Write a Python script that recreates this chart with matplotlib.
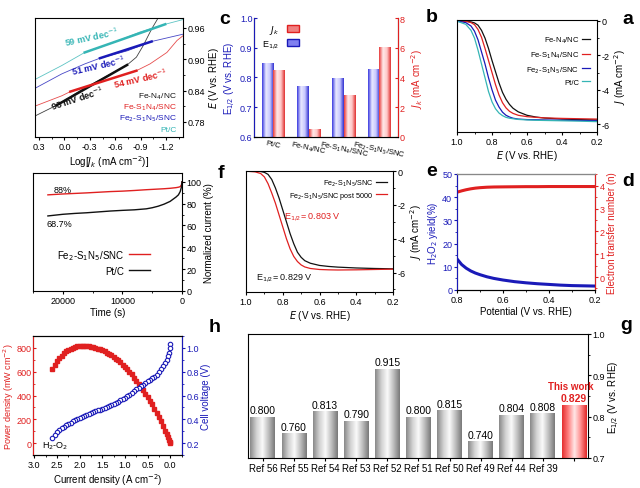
import numpy as np
import matplotlib.pyplot as plt
from matplotlib.ticker import AutoMinorLocator
from matplotlib.colors import LinearSegmentedColormap
from matplotlib.patches import Patch

plt.rcParams['font.family'] = ['Liberation Sans', 'DejaVu Sans']
plt.rcParams['font.size'] = 7
plt.rcParams['xtick.labelsize'] = 6.5
plt.rcParams['ytick.labelsize'] = 6.5
plt.rcParams['axes.unicode_minus'] = False
plt.rcParams['axes.linewidth'] = 0.8
plt.rcParams['xtick.major.size'] = 2.2
plt.rcParams['ytick.major.size'] = 2.2
plt.rcParams['xtick.minor.size'] = 1.3
plt.rcParams['ytick.minor.size'] = 1.3
plt.rcParams['xtick.major.pad'] = 1.2
plt.rcParams['ytick.major.pad'] = 1.2
plt.rcParams['axes.labelpad'] = 1.5

BLACK, RED, BLUE, CYAN = '#111111', '#e02020', '#1a1ab8', '#35b5b5'

# ---- a: ORR polarization curves
names = ['Fe-N$_4$/NC', 'Fe-S$_1$N$_4$/SNC', 'Fe$_2$-S$_1$N$_5$/SNC', 'Pt/C']
lsv_E = [1.00, 0.95, 0.92, 0.90, 0.88, 0.86, 0.84, 0.82, 0.80, 0.78, 0.76,
         0.74, 0.72, 0.70, 0.68, 0.65, 0.60, 0.55, 0.50, 0.40, 0.30, 0.20]
lsv_feN4 = [0.0, -0.02, -0.06, -0.12, -0.25, -0.55, -1.0, -1.6, -2.3, -2.95, -3.6,
            -4.15, -4.55, -4.85, -5.07, -5.28, -5.48, -5.58, -5.64, -5.70, -5.73, -5.75]
lsv_feS = [0.0, -0.03, -0.10, -0.22, -0.5, -0.95, -1.6, -2.3, -3.0, -3.7, -4.3,
           -4.75, -5.05, -5.25, -5.37, -5.48, -5.56, -5.60, -5.63, -5.66, -5.68, -5.70]
lsv_fe2 = [-0.01, -0.10, -0.3, -0.6, -1.1, -1.8, -2.5, -3.3, -4.0, -4.6, -5.0,
           -5.3, -5.48, -5.58, -5.65, -5.70, -5.73, -5.74, -5.75, -5.77, -5.78, -5.80]
lsv_ptc = [-0.02, -0.2, -0.55, -1.0, -1.7, -2.5, -3.3, -4.1, -4.7, -5.1, -5.35,
           -5.5, -5.6, -5.65, -5.68, -5.72, -5.75, -5.77, -5.78, -5.80, -5.82, -5.85]

# ---- b: E1/2 and Jk (original order)
cat_b = ['Fe$_2$-S$_1$N$_5$/SNC', 'Fe-S$_1$N$_4$/SNC', 'Fe-N$_4$/NC', 'Pt/C']
e_half = [0.829, 0.80, 0.771, 0.849]
j_k = [6.05, 2.82, 0.54, 4.5]

# ---- c: Tafel plots
taf_x_ptc = [0.35, 0.03, -0.24, -0.58, -0.89, -1.19, -1.40]
taf_y_ptc = [0.861, 0.888, 0.913, 0.932, 0.952, 0.967, 0.976]
taf_x_fe2 = [0.35, 0.03, -0.24, -0.42, -0.74, -1.03, -1.40]
taf_y_fe2 = [0.844, 0.872, 0.891, 0.902, 0.916, 0.934, 0.948]
taf_x_feS = [0.35, 0.03, -0.07, -0.42, -0.85, -1.01, -1.21, -1.33, -1.40]
taf_y_feS = [0.810, 0.830, 0.838, 0.856, 0.878, 0.891, 0.913, 0.936, 0.945]
taf_x_feN = [0.35, 0.09, -0.22, -0.74, -0.85, -0.93, -1.03, -1.11, -1.15]
taf_y_feN = [0.791, 0.812, 0.843, 0.889, 0.904, 0.926, 0.958, 0.980, 0.99]
fit_x = {'ptc': [-0.24, -1.19], 'fe2': [-0.42, -1.03], 'feS': [-0.07, -0.85], 'feN': [0.09, -0.74]}
fit_y = {'ptc': [0.913, 0.967], 'fe2': [0.902, 0.934], 'feS': [0.838, 0.878], 'feN': [0.812, 0.889]}

# ---- d: H2O2 yield / electron number
rrde_E = [0.80, 0.78, 0.76, 0.74, 0.72, 0.70, 0.67, 0.64, 0.60, 0.55, 0.50,
          0.45, 0.40, 0.35, 0.30, 0.25, 0.20]
h2o2 = [13.4, 11.0, 9.4, 8.2, 7.3, 6.6, 5.7, 5.0, 4.3, 3.6, 3.1, 2.7, 2.4, 2.1, 1.9, 1.8, 1.7]
n_e = [3.72, 3.78, 3.83, 3.87, 3.90, 3.92, 3.94, 3.95, 3.955, 3.96, 3.965, 3.965,
       3.97, 3.97, 3.97, 3.97, 3.97]

# ---- e: stability LSV
lsv_fresh = [0.0, -0.01, -0.03, -0.08, -0.2, -0.5, -1.0, -1.6, -2.3, -3.0, -3.7,
             -4.3, -4.8, -5.1, -5.3, -5.45, -5.58, -5.64, -5.68, -5.73, -5.76, -5.78]
lsv_post = [-0.01, -0.05, -0.15, -0.35, -0.75, -1.3, -1.9, -2.6, -3.3, -4.0, -4.6,
            -5.05, -5.35, -5.55, -5.67, -5.76, -5.82, -5.84, -5.85, -5.84, -5.82, -5.80]

# ---- f: chronoamperometry
ca_t = [0, 100, 300, 600, 1000, 2000, 3000, 4000, 5000, 6000, 8000, 10000,
        12000, 14000, 16000, 18000, 20000, 22500]
ca_fe2 = [100, 97, 95.5, 95, 94.6, 94, 93.6, 93.3, 93, 92.7, 92, 91.4, 91, 90.4,
          89.8, 89.3, 88.8, 88]
ca_ptc = [100, 95, 91, 88, 86, 82, 79.5, 77.6, 76.2, 75.2, 74.3, 73.8, 73.2, 72.4,
          71.6, 71.0, 70.2, 68.7]

# ---- g: comparison (original order)
refs = ['This work', 'Ref 39', 'Ref 44', 'Ref 49', 'Ref 50', 'Ref 51', 'Ref 52',
        'Ref 53', 'Ref 54', 'Ref 55', 'Ref 56']
ref_vals = [0.829, 0.808, 0.804, 0.740, 0.815, 0.800, 0.915, 0.790, 0.813, 0.760, 0.800]

# ---- h: H2-O2 fuel cell
fc_j = [0.00, 0.01, 0.03, 0.05, 0.08, 0.11, 0.15, 0.20, 0.25, 0.30, 0.35, 0.40,
        0.45, 0.50, 0.55, 0.60, 0.65, 0.70, 0.75, 0.80, 0.85, 0.90, 0.95, 1.00,
        1.05, 1.10, 1.15, 1.20, 1.25, 1.30, 1.35, 1.40, 1.45, 1.50, 1.55, 1.60,
        1.65, 1.70, 1.75, 1.80, 1.85, 1.90, 1.95, 2.00, 2.05, 2.10, 2.15, 2.20,
        2.25, 2.30, 2.35, 2.40, 2.45, 2.50, 2.55, 2.60]
fc_v = [1.03, 1.00, 0.96, 0.93, 0.90, 0.875, 0.85, 0.82, 0.795, 0.775, 0.758, 0.743,
        0.730, 0.718, 0.705, 0.692, 0.679, 0.665, 0.651, 0.637, 0.622, 0.607, 0.593,
        0.580, 0.569, 0.558, 0.548, 0.539, 0.530, 0.522, 0.514, 0.506, 0.498, 0.490,
        0.482, 0.474, 0.466, 0.458, 0.450, 0.442, 0.434, 0.426, 0.418, 0.410, 0.401,
        0.392, 0.383, 0.373, 0.362, 0.351, 0.339, 0.325, 0.309, 0.291, 0.270, 0.245]
fc_p = [0, 10, 30, 50, 80, 105, 145, 188, 222, 256, 290, 325, 356, 385, 414, 443,
        470, 497, 523, 550, 578, 600, 622, 641, 660, 678, 696, 710, 724, 737, 749,
        760, 770, 779, 787, 794, 800, 805, 810, 813, 815, 817, 817, 816, 813, 808,
        801, 793, 783, 770, 755, 735, 712, 686, 657, 622]

fig = plt.figure(figsize=(6.4, 4.89), dpi=100)


def box(x0, y0, x1, y1):
    return fig.add_axes([x0 / 640, 1 - y1 / 489, (x1 - x0) / 640, (y1 - y0) / 489])


def right_y(ax):
    ax.yaxis.tick_right()
    ax.yaxis.set_label_position('right')


def minors(ax, x=True, y=True):
    if x:
        ax.xaxis.set_minor_locator(AutoMinorLocator(2))
    if y:
        ax.yaxis.set_minor_locator(AutoMinorLocator(2))


def gradient_bars(ax, bars, colors):
    cmap = LinearSegmentedColormap.from_list('g', colors)
    shade = np.linspace(0, 1, 64).reshape(1, -1)
    for b in bars:
        x, y = b.get_x(), b.get_y()
        w, h = b.get_width(), b.get_height()
        b.set_facecolor('none')
        b.set_edgecolor('none')
        im = ax.imshow(shade, extent=(x, x + w, y, y + h), aspect='auto',
                       cmap=cmap, zorder=2, interpolation='bilinear')
        im.set_clip_path(b)


# panel a
ax = box(457, 21, 597, 133)
for lab, j, c in zip(names, [lsv_feN4, lsv_feS, lsv_fe2, lsv_ptc], [BLACK, RED, BLUE, CYAN]):
    ax.plot(lsv_E, j, color=c, lw=0.9, label=lab)
right_y(ax)
ax.set_xlim(1.0, 0.2)
ax.set_ylim(-6.45, 0.05)
ax.set_xticks([1.0, 0.8, 0.6, 0.4, 0.2])
ax.set_yticks([0, -2, -4, -6])
minors(ax)
ax.set_xlabel('$E$ (V vs. RHE)')
ax.set_ylabel('$J$ (mA cm$^{-2}$)')
ax.legend(loc='upper right', bbox_to_anchor=(1.0, 0.93), markerfirst=False, frameon=False,
          fontsize=5.5, handlelength=1.0, labelspacing=0.55, handletextpad=0.4)

# panel b
ax = box(254, 19, 398, 138)
ax2 = ax.twinx()
pos = np.arange(len(cat_b))
bb = ax.bar(pos + 0.165, np.subtract(e_half, 0.6), width=0.33, bottom=0.6)
br = ax2.bar(pos - 0.165, j_k, width=0.33)
gradient_bars(ax, bb, ['#3030d0', '#c8c8ff', '#e8e8ff', '#3a3ae0'])
gradient_bars(ax2, br, ['#e03030', '#ffc8c8', '#ffe8e8', '#e83a3a'])
ax.set_xlim(3.55, -0.53)
ax.set_ylim(0.6, 1.0)
ax2.set_ylim(0, 8)
ax.set_yticks([0.6, 0.7, 0.8, 0.9, 1.0])
ax2.set_yticks([0, 2, 4, 6, 8])
ax.set_xticks(pos)
ax.set_xticklabels(cat_b, rotation=-12, fontsize=5.5, ha='center')
ax.tick_params(axis='x', length=0)
ax.tick_params(axis='y', colors=BLUE, direction='in')
ax2.tick_params(axis='y', colors=RED, direction='in')
ax2.spines['left'].set_color(BLUE)
ax2.spines['right'].set_color(RED)
for a in (ax, ax2):
    a.spines['top'].set_visible(False)
ax.set_ylabel('E$_{1/2}$ (V vs. RHE)', color=BLUE)
ax.yaxis.set_label_coords(-0.11, 0.5)
ax2.set_ylabel('$J_k$ (mA cm$^{-2}$)', color=RED)
ax2.yaxis.set_label_coords(1.08, 0.5)
ax.legend(handles=[Patch(facecolor='#f08080', edgecolor=RED, label='$J_k$'),
                   Patch(facecolor='#8080f0', edgecolor=BLUE, label='E$_{1/2}$')],
          loc='upper left', bbox_to_anchor=(0.0, 1.03), markerfirst=False, frameon=False,
          fontsize=6.5, handlelength=1.4, handleheight=0.8, labelspacing=0.3)

# panel c
ax = box(35, 19, 183, 138)
for xs, ys, c, k in [(taf_x_feN, taf_y_feN, BLACK, 'feN'), (taf_x_feS, taf_y_feS, RED, 'feS'),
                     (taf_x_fe2, taf_y_fe2, BLUE, 'fe2'), (taf_x_ptc, taf_y_ptc, CYAN, 'ptc')]:
    ax.plot(xs, ys, color=c, lw=0.6, alpha=0.8)
    ax.plot(fit_x[k], fit_y[k], color=c, lw=1.8)
right_y(ax)
ax.set_xlim(0.347, -1.40)
ax.set_ylim(0.751, 0.979)
ax.set_xticks([0.3, 0.0, -0.3, -0.6, -0.9, -1.2])
ax.set_xticklabels(['0.3', '0.0', '-0.3', '-0.6', '-0.9', '-1.2'])
ax.set_yticks([0.78, 0.84, 0.90, 0.96])
minors(ax)
ax.set_xlabel('Log[$J_k$ (mA cm$^{-2}$)]')
ax.set_ylabel('$E$ (V vs. RHE)')
ax.yaxis.set_label_coords(1.165, 0.5)
for s, c, xy, r in [('59 mV dec$^{-1}$', CYAN, (0.385, 0.85), 12),
                    ('51 mV dec$^{-1}$', BLUE, (0.43, 0.61), 13),
                    ('54 mV dec$^{-1}$', RED, (0.716, 0.50), 13),
                    ('93 mV dec$^{-1}$', BLACK, (0.29, 0.335), 18)]:
    ax.text(*xy, s, color=c, fontsize=6.5, fontweight='bold', rotation=r,
            ha='center', va='center', transform=ax.transAxes)
for s, c, yy in zip(names, [BLACK, RED, BLUE, CYAN], [0.345, 0.252, 0.16, 0.06]):
    ax.text(0.96, yy, s, color=c, fontsize=6, ha='right', va='center', transform=ax.transAxes)

# panel d
ax = box(457, 175, 595, 291)
ax2 = ax.twinx()
ax.plot(rrde_E, h2o2, color=BLUE, lw=2.2)
ax2.plot(rrde_E, n_e, color=RED, lw=2.2)
ax.set_xlim(0.8, 0.2)
ax.set_ylim(0, 50)
ax2.set_ylim(-0.57, 4.52)
ax.set_xticks([0.8, 0.6, 0.4, 0.2])
ax.set_yticks([0, 10, 20, 30, 40, 50])
ax2.set_yticks([0, 1, 2, 3, 4])
minors(ax)
ax2.yaxis.set_minor_locator(AutoMinorLocator(2))
ax.tick_params(axis='y', which='both', colors=BLUE)
ax2.tick_params(axis='y', which='both', colors=RED)
ax2.spines['left'].set_color(BLUE)
ax2.spines['right'].set_color(RED)
ax2.spines['top'].set_color('#888888')
ax.set_xlabel('Potential (V vs. RHE)')
ax.set_ylabel('H$_2$O$_2$ yield(%)', color=BLUE)
ax.yaxis.set_label_coords(-0.125, 0.5)
ax2.set_ylabel('Electron transfer number (n)', color=RED)

# panel e
ax = box(246, 172, 393, 293)
ax.plot(lsv_E, lsv_fresh, color=BLACK, lw=0.9, label='Fe$_2$-S$_1$N$_5$/SNC')
ax.plot(lsv_E, lsv_post, color=RED, lw=0.9, label='Fe$_2$-S$_1$N$_5$/SNC post 5000')
right_y(ax)
ax.set_xlim(1.0, 0.2)
ax.set_ylim(-7.15, 0.0)
ax.set_xticks([1.0, 0.8, 0.6, 0.4, 0.2])
ax.set_yticks([0, -2, -4, -6])
minors(ax)
ax.set_xlabel('$E$ (V vs. RHE)')
ax.set_ylabel('$J$ (mA cm$^{-2}$)')
ax.yaxis.set_label_coords(1.1, 0.5)
ax.legend(loc='upper right', bbox_to_anchor=(1.0, 1.0), markerfirst=False, frameon=False,
          fontsize=5.2, handlelength=1.4, labelspacing=0.3, handletextpad=0.4)
ax.text(0.45, 0.625, 'E$_{1/2}$= 0.803 V', color=RED, fontsize=6.5, ha='center',
        va='center', transform=ax.transAxes)
ax.text(0.265, 0.125, 'E$_{1/2}$= 0.829 V', color=BLACK, fontsize=6.5, ha='center',
        va='center', transform=ax.transAxes)

# panel f
ax = box(33, 174, 182, 292)
ax.plot(ca_t, ca_fe2, color=RED, lw=1.0, label='Fe$_2$-S$_1$N$_5$/SNC')
ax.plot(ca_t, ca_ptc, color=BLACK, lw=1.0, label='Pt/C')
right_y(ax)
ax.set_xlim(25000, 0)
ax.set_ylim(0, 108)
ax.set_xticks([20000, 10000, 0])
ax.set_yticks([0, 20, 40, 60, 80, 100])
minors(ax)
ax.set_xlabel('Time (s)')
ax.set_ylabel('Normalized current (%)')
ax.legend(loc='upper left', bbox_to_anchor=(0.1, 0.44), markerfirst=False, frameon=False,
          fontsize=7, handlelength=2.2, labelspacing=0.4, handletextpad=0.5)
ax.text(0.2, 0.86, '88%', fontsize=6.5, ha='center', va='center', transform=ax.transAxes)
ax.text(0.18, 0.57, '68.7%', fontsize=6.5, ha='center', va='center', transform=ax.transAxes)

# panel g
ax = box(248, 335, 588, 459)
pos = np.arange(len(refs))
bars = ax.bar(pos, np.subtract(ref_vals, 0.7), width=0.8, bottom=0.7)
gradient_bars(ax, bars[1:], ['#7a7a7a', '#bdbdbd', '#fbfbfb', '#d0d0d0', '#8a8a8a'])
gradient_bars(ax, bars[:1], ['#e02828', '#ff9090', '#ffe8e8', '#ff8080', '#e53030'])
right_y(ax)
ax.set_xlim(10.48, -0.45)
ax.set_ylim(0.7, 1.0)
ax.set_yticks([0.7, 0.8, 0.9, 1.0])
ax.yaxis.set_minor_locator(AutoMinorLocator(2))
ax.set_xticks(pos)
ax.set_xticklabels([''] + refs[1:], fontsize=7)
ax.set_ylabel('E$_{1/2}$ (V vs. RHE)')
for p, v in zip(pos[1:], ref_vals[1:]):
    ax.text(p, v + 0.004, f'{v:.3f}', ha='center', va='bottom', fontsize=7.5)
ax.text(pos[0], ref_vals[0] + 0.004, f'{ref_vals[0]:.3f}', ha='center', va='bottom',
        fontsize=7.5, color=RED, fontweight='bold')
ax.text(pos[0] + 0.1, ref_vals[0] + 0.032, refs[0], ha='center', va='bottom',
        fontsize=7, color=RED, fontweight='bold')

# panel h
ax = box(33, 337, 182, 456)
ax2 = ax.twinx()
ax.plot(fc_j, fc_p, 's', color=RED, ms=2.8, mec=RED)
ax2.plot(fc_j, fc_v, 'o', color=BLUE, ms=3.2, mfc='white', mew=0.8)
ax.set_xlim(3.03, -0.26)
ax.set_ylim(-100, 900)
ax2.set_ylim(0.1, 1.1)
ax.set_xticks([3.0, 2.5, 2.0, 1.5, 1.0, 0.5, 0.0])
ax.set_yticks([0, 200, 400, 600, 800])
ax2.set_yticks([0.2, 0.4, 0.6, 0.8, 1.0])
minors(ax)
ax2.yaxis.set_minor_locator(AutoMinorLocator(2))
ax.tick_params(axis='y', which='both', colors=RED, direction='in')
ax2.tick_params(axis='y', which='both', colors=BLUE)
ax2.spines['left'].set_color(RED)
ax2.spines['right'].set_color(BLUE)
ax.set_xlabel('Current density (A cm$^{-2}$)')
ax.set_ylabel('Power density (mW cm$^{-2}$)', color=RED, fontsize=6.5)
ax.yaxis.set_label_coords(-0.115, 0.5)
ax2.set_ylabel('Cell voltage (V)', color=BLUE)
ax.text(0.15, 0.08, 'H$_2$-O$_2$', fontsize=6.5, ha='center', va='center', transform=ax.transAxes)

# panel letters
for s, x, y in [('a', 628, 20), ('b', 432, 18), ('c', 225, 20), ('d', 628, 182),
                ('e', 432, 172), ('f', 221, 173), ('g', 626, 326), ('h', 215, 328)]:
    fig.text(x / 640, 1 - y / 489, s, fontsize=14, fontweight='bold', ha='center', va='center')

fig.savefig('out.png', dpi=100)
